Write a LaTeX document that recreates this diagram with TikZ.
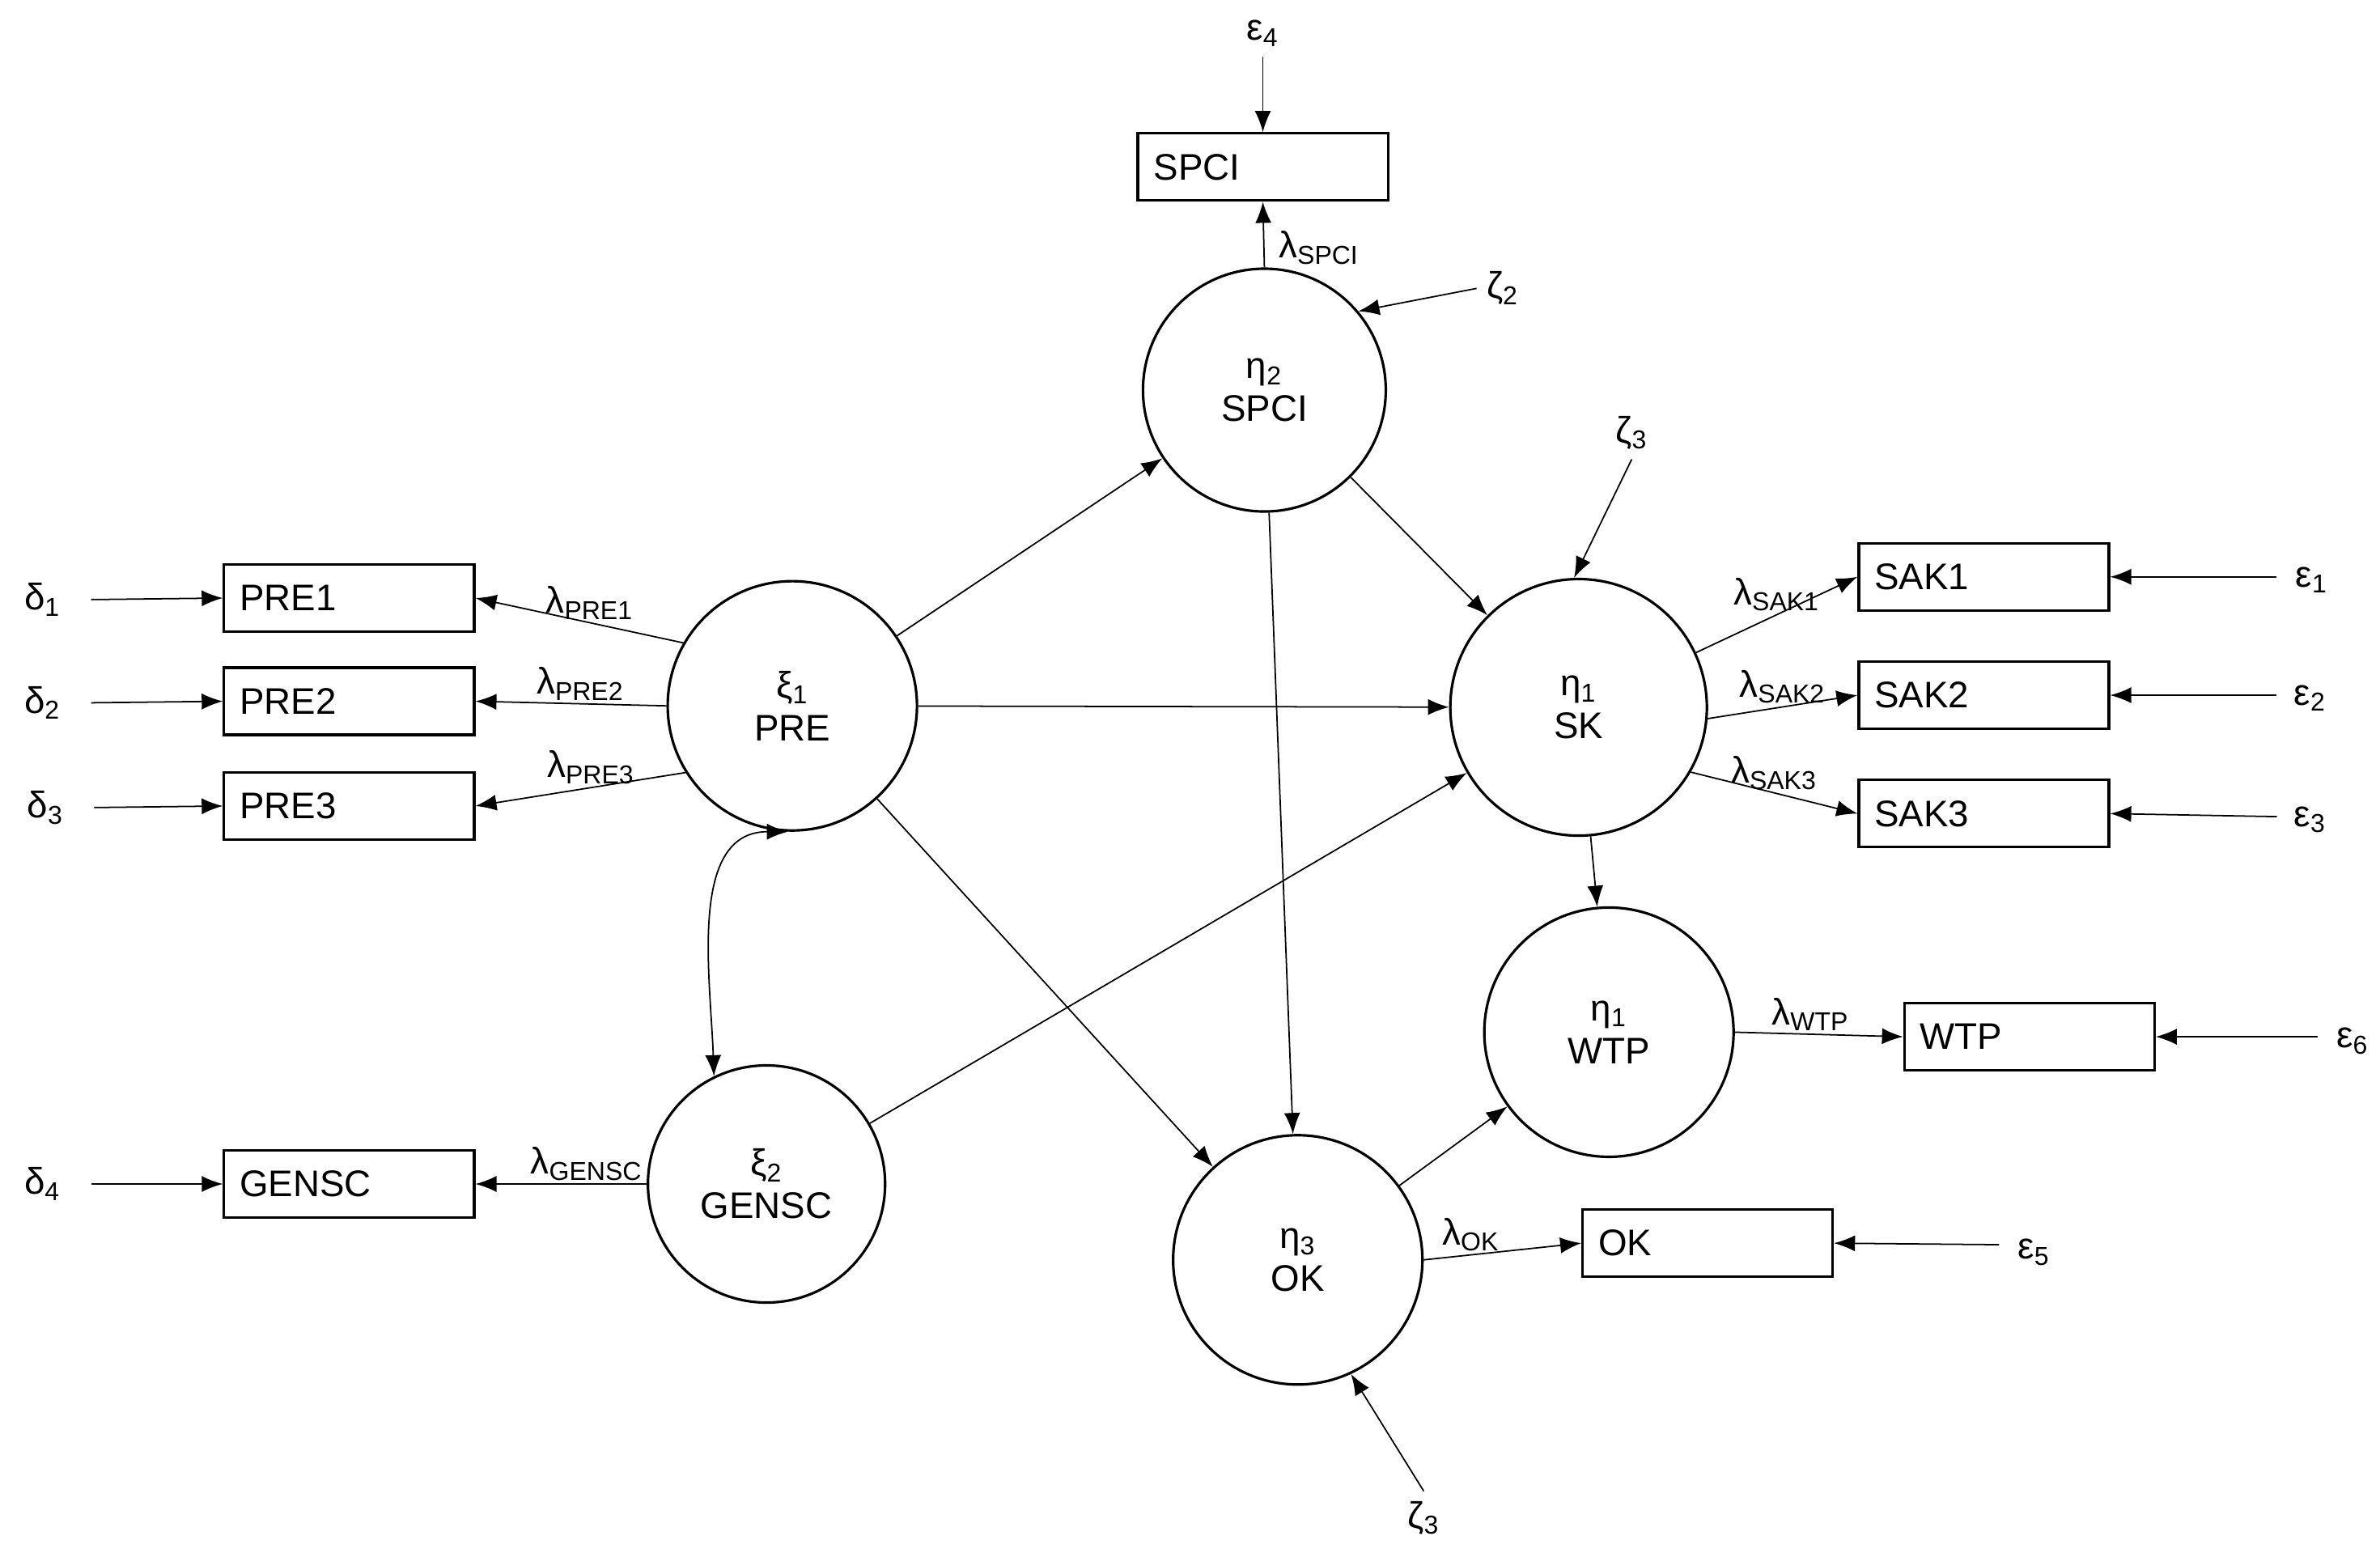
\documentclass[tikz,border=0pt]{standalone}
\usepackage{fontspec}
\setmainfont{Liberation Sans}
\usetikzlibrary{arrows.meta}
\newcommand\sbs[1]{\textsubscript{#1}}
\begin{document}
\begin{tikzpicture}[x=0.018757cm,y=-0.018757cm,
 every node/.style={font=\fontsize{13}{15}\selectfont},
 lat/.style={draw,circle,line width=0.9pt,align=center,inner sep=0pt},
 box/.style={draw,rectangle,line width=0.9pt,minimum width=3.09cm,minimum height=0.83cm,text width=2.7cm,align=left},
 arr/.style={-{Latex[length=2.6mm,width=2mm]},line width=0.5pt},
 lab/.style={inner sep=1pt}]
\useasboundingbox (0,0) rectangle (1568,1023);
% latent
\node[lat,minimum size=3.08cm] (pre) at (522,465) {ξ\sbs{1}\\PRE};
\node[lat,minimum size=2.93cm] (gensc) at (505,780) {ξ\sbs{2}\\GENSC};
\node[lat,minimum size=3.0cm] (spci) at (833,257) {η\sbs{2}\\SPCI};
\node[lat,minimum size=3.17cm] (sk) at (1040,466) {η\sbs{1}\\SK};
\node[lat,minimum size=3.08cm] (wtp) at (1060,680) {η\sbs{1}\\WTP};
\node[lat,minimum size=3.08cm] (ok) at (855,830) {η\sbs{3}\\OK};
% boxes
\node[box] (bspci) at (832,110) {SPCI};
\node[box] (pre1) at (230,394) {PRE1};
\node[box] (pre2) at (230,462) {PRE2};
\node[box] (pre3) at (230,531) {PRE3};
\node[box] (bgensc) at (230,780) {GENSC};
\node[box] (sak1) at (1307,380) {SAK1};
\node[box] (sak2) at (1307,458) {SAK2};
\node[box] (sak3) at (1307,536) {SAK3};
\node[box] (bwtp) at (1337,683) {WTP};
\node[box] (bok) at (1125,819) {OK};
% error labels
\node (d1) at (28,395) {δ\sbs{1}};
\node (d2) at (28,463) {δ\sbs{2}};
\node (d3) at (30,532) {δ\sbs{3}};
\node (d4) at (28,780) {δ\sbs{4}};
\node (e4) at (832,22) {ε\sbs{4}};
\node (e1) at (1523,382) {ε\sbs{1}};
\node (e2) at (1522,460) {ε\sbs{2}};
\node (e3) at (1522,540) {ε\sbs{3}};
\node (e6) at (1550,686) {ε\sbs{6}};
\node (e5) at (1340,825) {ε\sbs{5}};
\node (z2) at (990,190) {ζ\sbs{2}};
\node (z3a) at (1075,285) {ζ\sbs{3}};
\node (z3b) at (938,1000) {ζ\sbs{3}};
% free ends
\coordinate (c1) at (60,395);
\coordinate (c2) at (60,463);
\coordinate (c3) at (62,532);
\coordinate (c4) at (60,780);
\coordinate (c5) at (1500,380);
\coordinate (c6) at (1500,458);
\coordinate (c7) at (1500,538);
\coordinate (c8) at (1527,683);
\coordinate (c9) at (1317,820);
% error arrows
\draw[arr] (c1) -- (pre1.west);
\draw[arr] (c2) -- (pre2.west);
\draw[arr] (c3) -- (pre3.west);
\draw[arr] (c4) -- (bgensc.west);
\draw[arr] (e4.south) -- (bspci.north);
\draw[arr] (c5) -- (sak1.east);
\draw[arr] (c6) -- (sak2.east);
\draw[arr] (c7) -- (sak3.east);
\draw[arr] (c8) -- (bwtp.east);
\draw[arr] (c9) -- (bok.east);
\draw[arr] (z2.west) -- (spci.40);
\draw[arr] (z3a.south) -- (sk.92);
\draw[arr] (z3b.north) -- (ok.-65);
% loadings
\draw[arr] (pre.150) -- node[lab,above,pos=0.45]{λ\sbs{PRE1}} (pre1.east);
\draw[arr] (pre.180) -- node[lab,above,pos=0.45]{λ\sbs{PRE2}} (pre2.east);
\draw[arr] (pre.212) -- node[lab,above,pos=0.45]{λ\sbs{PRE3}} (pre3.east);
\draw[arr] (gensc.west) -- node[lab,above,pos=0.35]{λ\sbs{GENSC}} (bgensc.east);
\draw[arr] (spci.north) -- node[lab,right,pos=0.3,xshift=4pt]{λ\sbs{SPCI}} (bspci.south);
\draw[arr] (sk.25) -- node[lab,above,pos=0.5]{λ\sbs{SAK1}} (sak1.west);
\draw[arr] (sk.-5) -- node[lab,above,pos=0.5]{λ\sbs{SAK2}} (sak2.west);
\draw[arr] (sk.-30) -- node[lab,above,pos=0.5]{λ\sbs{SAK3}} (sak3.west);
\draw[arr] (wtp.east) -- node[lab,above,pos=0.45]{λ\sbs{WTP}} (bwtp.west);
\draw[arr] (ok.east) -- node[lab,above,pos=0.3]{λ\sbs{OK}} (bok.west);
% structural
\draw[arr] (pre) -- (spci);
\draw[arr] (pre) -- (sk);
\draw[arr] (pre) -- (ok);
\draw[arr] (spci) -- (sk);
\draw[arr] (spci) -- (ok);
\draw[arr] (gensc) -- (sk);
\draw[arr] (sk) -- (wtp);
\draw[arr] (ok) -- (wtp);
\draw[{Latex[length=2.6mm,width=2mm]}-{Latex[length=2.6mm,width=2mm]},line width=0.5pt] (pre.268) to[out=180,in=92] (gensc.116);
\end{tikzpicture}
\end{document}
